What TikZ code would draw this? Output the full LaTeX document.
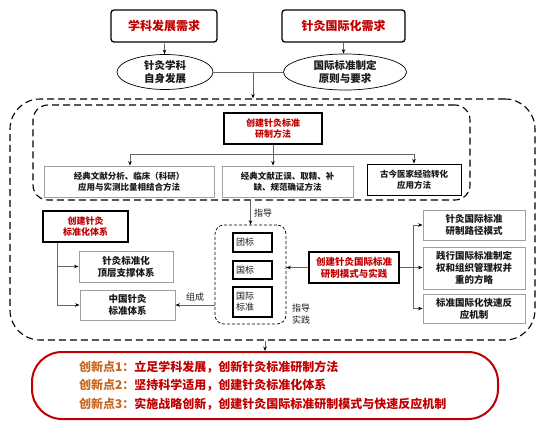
\documentclass[tikz,border=0pt]{standalone}
\usepackage{fontspec}
\newfontfamily\cjk{Noto Sans CJK SC}
\usetikzlibrary{arrows.meta,shapes.geometric}
\definecolor{deepred}{HTML}{C00000}
\definecolor{rust}{HTML}{C8641E}
\definecolor{ink}{HTML}{1A1A1A}

\begin{document}
\begin{tikzpicture}[x=1pt,y=-1pt,every node/.style={text=ink,align=center,font=\cjk\bfseries\fontsize{9}{11.5}\selectfont},
 need/.style={draw,line width=1.3pt,rounded corners=3pt,text=deepred,font=\cjk\bfseries\fontsize{12}{14}\selectfont,minimum width=106pt,minimum height=32pt},
 oval/.style={ellipse,draw,line width=.7pt,inner sep=0pt,font=\cjk\bfseries\fontsize{10.5}{13}\selectfont},
 key/.style={draw,line width=1.6pt,text=deepred,minimum height=31pt},
 item/.style={draw=gray!75,line width=.9pt,minimum height=31pt,font=\cjk\bfseries\fontsize{9.5}{12}\selectfont},
 tag/.style={draw,line width=1.6pt,font=\cjk\fontsize{9}{11.5}\selectfont,align=left,text width=33pt,inner sep=3pt},
 frame/.style={draw,dash pattern=on 7pt off 4pt,line width=1.1pt},
 arr/.style={-{Stealth[length=4.5pt,width=3.5pt,color=black]},draw=gray!80!black,line width=.7pt},
 link/.style={draw=gray!80!black,line width=.7pt},
 lbl/.style={font=\cjk\fontsize{9}{11.5}\selectfont}]
\useasboundingbox (0,0) rectangle (543,424);
% needs
\node[need] (subj) at (164,26) {学科发展需求};
\node[need,minimum width=123pt] (intl) at (343.5,26) {针灸国际化需求};
\node[oval,minimum width=96pt,minimum height=35pt] (self) at (165,72) {针灸学科\\自身发展};
\node[oval,minimum width=123pt,minimum height=36pt] (rule) at (345,72) {国际标准制定\\原则与要求};
\draw[arr] (subj) -- (self);
\draw[arr] (intl.south) -- (intl.south |- rule.north);
\draw[link] (self) -- (rule);
\coordinate (split) at (253,72);
% frames
\node[frame,rounded corners=30pt,minimum width=525pt,minimum height=241pt] (outer) at (272.5,219.5) {};
\node[frame,rounded corners=15pt,minimum width=437pt,minimum height=95pt] (inner) at (251.5,152.5) {};
\draw[arr] (split) -- (split |- outer.north);
% methods
\node[key,minimum width=98pt] (method) at (273,128.5) {创建针灸标准\\研制方法};
\node[item,minimum width=170pt,font=\cjk\bfseries\fontsize{8.5}{11}\selectfont] (m1) at (129,181.5) {经典文献分析、临床（科研）\\应用与实测比量相结合方法};
\node[item,minimum width=131pt,font=\cjk\bfseries\fontsize{8.5}{11}\selectfont] (m2) at (287.5,181.5) {经典文献正误、取精、补\\缺、规范确证方法};
\node[item,draw=black,minimum width=94pt,font=\cjk\bfseries\fontsize{8.5}{11}\selectfont] (m3) at (414,179.5) {古今医家经验转化\\应用方法};
\coordinate (fork) at (273,154);
\draw[arr] (method) -- (method |- m2.north);
\draw[arr] (fork) -| ([xshift=1pt]m1.north);
\draw[arr] (fork) -| (m3.north);
% standards
\node[draw,dash pattern=on 3pt off 2pt,line width=.7pt,rounded corners=9pt,minimum width=71pt,minimum height=99pt] (std) at (250.5,274.5) {};
\node[tag,minimum height=19pt] (group) at (252.5,242.5) {团标};
\node[tag,minimum height=18pt] (nat) at (252.5,270) {国标};
\node[tag,minimum height=30pt] (iso) at (252.5,302) {国际\\标准};
\draw[arr] (inner.south -| std.north) -- (std.north) node[midway,right,lbl]{指导};
\node[lbl] (guide) at (301,314) {指导\\实践};
% system
\node[key,minimum width=85pt] (sys) at (85.5,226.5) {创建针灸\\标准化体系};
\node[item,minimum width=94pt] (top) at (126,266.5) {针灸标准化\\顶层支撑体系};
\node[item,minimum width=95pt,minimum height=30pt] (cn) at (127.5,305) {中国针灸\\标准体系};
\draw[arr] ([xshift=-28.5pt]sys.south) |- (top.west);
\draw[arr] ([xshift=-28.5pt]sys.south) |- (cn.west);
\draw[arr] (std.west |- cn) -- (cn.east) node[midway,above,lbl]{组成};
% international mode
\node[key,minimum width=90pt,font=\cjk\bfseries\fontsize{9.5}{12}\selectfont] (mode) at (354,267.5) {创建针灸国际标准\\研制模式与实践};
\node[item,minimum width=102pt,minimum height=30pt] (r1) at (474,225) {针灸国际标准\\研制路径模式};
\node[item,minimum width=102pt,minimum height=42pt] (r2) at (474,268) {践行国际标准制定\\权和组织管理权并\\重的方略};
\node[item,minimum width=102pt,minimum height=29pt] (r3) at (474,308.5) {标准国际化快速反\\应机制};
\draw[arr] (mode.west) -- (std.east |- mode);
\coordinate (hub) at (413,267.5);
\draw[link] (mode.east) -- (hub);
\draw[arr] (hub) |- (r1.west);
\draw[arr] (hub) -- (r2.west |- hub);
\draw[arr] (hub) |- (r3.west);
% results
\node[draw=deepred,line width=2pt,rounded corners=30pt,minimum width=466pt,minimum height=67pt,text width=372pt,align=left,text=deepred,font=\cjk\bfseries\fontsize{12}{18.5}\selectfont] (res) at (265,385.5)
 {{\color{rust}创新点1：}立足学科发展，创新针灸标准研制方法\\{\color{rust}创新点2：}坚持科学适用，创建针灸标准化体系\\{\color{rust}创新点3：}实施战略创新，创建针灸国际标准研制模式与快速反应机制};
\draw[arr] (outer.south -| res.north) -- (res.north);
\end{tikzpicture}
\end{document}
